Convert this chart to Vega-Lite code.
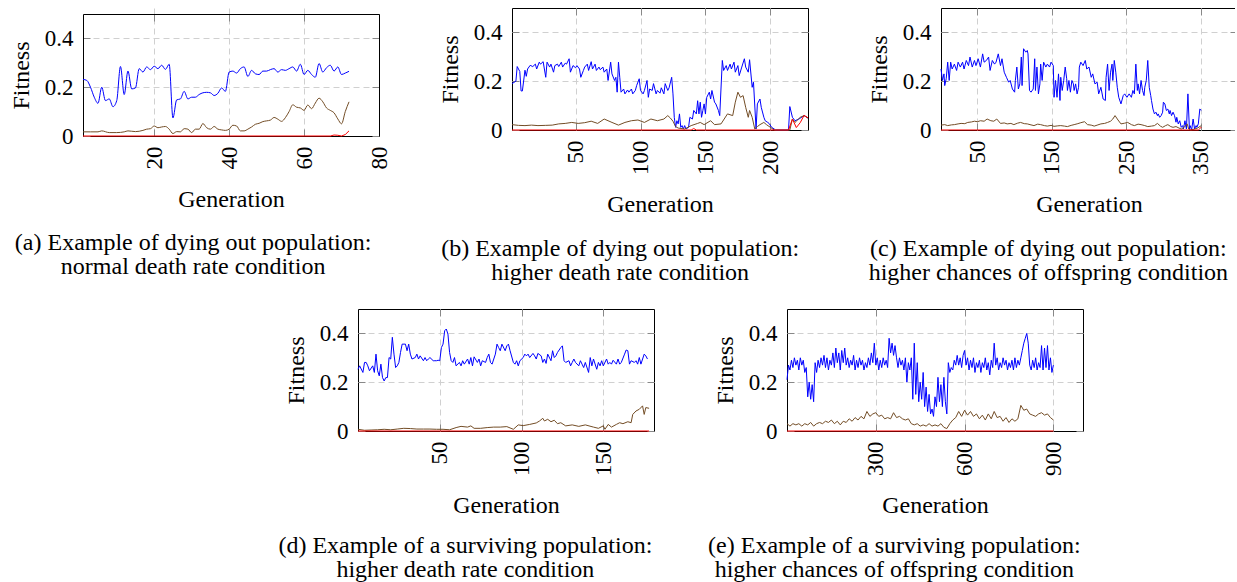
{
"$schema":"https://vega.github.io/schema/vega-lite/v6.json",
"background":"white",
"padding":{"left":9,"top":7,"right":-3,"bottom":0},
"datasets":{
"aB":[{"g":1,"v":0.232},{"g":2,"v":0.228},{"g":3,"v":0.2},{"g":4,"v":0.159},{"g":5,"v":0.134},{"g":6,"v":0.2},{"g":7,"v":0.145},{"g":8,"v":0.152},{"g":9,"v":0.12},{"g":10,"v":0.145},{"g":11,"v":0.285},{"g":12,"v":0.17},{"g":13,"v":0.266},{"g":14,"v":0.193},{"g":15,"v":0.197},{"g":16,"v":0.276},{"g":17,"v":0.262},{"g":18,"v":0.283},{"g":19,"v":0.272},{"g":20,"v":0.286},{"g":21,"v":0.276},{"g":22,"v":0.29},{"g":23,"v":0.273},{"g":24,"v":0.294},{"g":25,"v":0.074},{"g":26,"v":0.148},{"g":27,"v":0.152},{"g":28,"v":0.183},{"g":29,"v":0.152},{"g":30,"v":0.159},{"g":31,"v":0.159},{"g":32,"v":0.17},{"g":33,"v":0.177},{"g":34,"v":0.179},{"g":35,"v":0.177},{"g":36,"v":0.166},{"g":37,"v":0.175},{"g":38,"v":0.197},{"g":39,"v":0.183},{"g":40,"v":0.262},{"g":41,"v":0.266},{"g":42,"v":0.258},{"g":43,"v":0.276},{"g":44,"v":0.283},{"g":45,"v":0.244},{"g":46,"v":0.269},{"g":47,"v":0.255},{"g":48,"v":0.252},{"g":49,"v":0.266},{"g":50,"v":0.266},{"g":51,"v":0.272},{"g":52,"v":0.276},{"g":53,"v":0.262},{"g":54,"v":0.272},{"g":55,"v":0.269},{"g":56,"v":0.276},{"g":57,"v":0.283},{"g":58,"v":0.266},{"g":59,"v":0.294},{"g":60,"v":0.252},{"g":61,"v":0.269},{"g":62,"v":0.252},{"g":63,"v":0.241},{"g":64,"v":0.297},{"g":65,"v":0.262},{"g":66,"v":0.28},{"g":67,"v":0.29},{"g":68,"v":0.266},{"g":69,"v":0.283},{"g":70,"v":0.252},{"g":71,"v":0.258},{"g":72,"v":0.265}],
"aM":[{"g":1,"v":0.017},{"g":3,"v":0.017},{"g":5,"v":0.017},{"g":6,"v":0.021},{"g":8,"v":0.014},{"g":10,"v":0.014},{"g":12,"v":0.017},{"g":13,"v":0.021},{"g":15,"v":0.018},{"g":17,"v":0.023},{"g":18,"v":0.028},{"g":19,"v":0.03},{"g":20,"v":0.041},{"g":21,"v":0.034},{"g":22,"v":0.037},{"g":23,"v":0.039},{"g":24,"v":0.028},{"g":25,"v":0.01},{"g":26,"v":0.018},{"g":27,"v":0.017},{"g":28,"v":0.03},{"g":29,"v":0.028},{"g":30,"v":0.014},{"g":31,"v":0.028},{"g":32,"v":0.028},{"g":33,"v":0.051},{"g":34,"v":0.034},{"g":35,"v":0.028},{"g":36,"v":0.039},{"g":37,"v":0.028},{"g":38,"v":0.025},{"g":39,"v":0.023},{"g":40,"v":0.028},{"g":41,"v":0.044},{"g":42,"v":0.041},{"g":43,"v":0.021},{"g":44,"v":0.021},{"g":45,"v":0.028},{"g":46,"v":0.037},{"g":47,"v":0.048},{"g":48,"v":0.052},{"g":49,"v":0.059},{"g":50,"v":0.062},{"g":51,"v":0.065},{"g":52,"v":0.076},{"g":53,"v":0.069},{"g":54,"v":0.06},{"g":55,"v":0.075},{"g":56,"v":0.1},{"g":57,"v":0.128},{"g":58,"v":0.118},{"g":59,"v":0.115},{"g":60,"v":0.105},{"g":61,"v":0.127},{"g":62,"v":0.112},{"g":63,"v":0.135},{"g":64,"v":0.155},{"g":65,"v":0.14},{"g":66,"v":0.115},{"g":67,"v":0.105},{"g":68,"v":0.095},{"g":69,"v":0.07},{"g":70,"v":0.05},{"g":71,"v":0.1},{"g":72,"v":0.14}],
"aR":[{"g":1,"v":0},{"g":67,"v":0},{"g":68,"v":0.004},{"g":69,"v":0.003},{"g":70,"v":0},{"g":71,"v":0.006},{"g":72,"v":0.021}],
"bB":[{"g":1,"v":0.19},{"g":4,"v":0.2},{"g":5,"v":0.26},{"g":7,"v":0.24},{"g":8,"v":0.16},{"g":9,"v":0.16},{"g":11,"v":0.245},{"g":12,"v":0.22},{"g":13,"v":0.25},{"g":15,"v":0.265},{"g":17,"v":0.26},{"g":19,"v":0.27},{"g":20,"v":0.25},{"g":22,"v":0.278},{"g":23,"v":0.27},{"g":25,"v":0.28},{"g":27,"v":0.216},{"g":28,"v":0.278},{"g":30,"v":0.258},{"g":31,"v":0.27},{"g":33,"v":0.237},{"g":34,"v":0.264},{"g":36,"v":0.27},{"g":37,"v":0.26},{"g":39,"v":0.278},{"g":40,"v":0.258},{"g":42,"v":0.274},{"g":43,"v":0.27},{"g":45,"v":0.292},{"g":46,"v":0.237},{"g":48,"v":0.264},{"g":50,"v":0.255},{"g":51,"v":0.264},{"g":53,"v":0.25},{"g":54,"v":0.216},{"g":56,"v":0.244},{"g":57,"v":0.258},{"g":59,"v":0.27},{"g":60,"v":0.244},{"g":62,"v":0.28},{"g":63,"v":0.25},{"g":65,"v":0.27},{"g":66,"v":0.244},{"g":68,"v":0.258},{"g":69,"v":0.247},{"g":71,"v":0.258},{"g":72,"v":0.237},{"g":74,"v":0.25},{"g":75,"v":0.203},{"g":77,"v":0.278},{"g":78,"v":0.23},{"g":80,"v":0.203},{"g":81,"v":0.216},{"g":82,"v":0.155},{"g":83,"v":0.278},{"g":84,"v":0.216},{"g":85,"v":0.155},{"g":87,"v":0.168},{"g":88,"v":0.148},{"g":90,"v":0.164},{"g":91,"v":0.155},{"g":93,"v":0.168},{"g":94,"v":0.148},{"g":96,"v":0.162},{"g":97,"v":0.182},{"g":99,"v":0.21},{"g":100,"v":0.162},{"g":102,"v":0.148},{"g":103,"v":0.162},{"g":105,"v":0.203},{"g":106,"v":0.134},{"g":107,"v":0.168},{"g":109,"v":0.162},{"g":110,"v":0.19},{"g":112,"v":0.148},{"g":113,"v":0.162},{"g":115,"v":0.151},{"g":116,"v":0.173},{"g":118,"v":0.148},{"g":119,"v":0.19},{"g":121,"v":0.162},{"g":122,"v":0.173},{"g":124,"v":0.216},{"g":125,"v":0.148},{"g":126,"v":0.052},{"g":127,"v":0.011},{"g":128,"v":0.038},{"g":129,"v":0.025},{"g":130,"v":0.066},{"g":131,"v":0.011},{"g":132,"v":0.018},{"g":133,"v":0.004},{"g":134,"v":0.018},{"g":135,"v":0.004},{"g":137,"v":0.011},{"g":138,"v":0.052},{"g":140,"v":0.045},{"g":141,"v":0.08},{"g":143,"v":0.066},{"g":144,"v":0.12},{"g":145,"v":0.066},{"g":146,"v":0.114},{"g":147,"v":0.052},{"g":148,"v":0.08},{"g":149,"v":0.107},{"g":150,"v":0.066},{"g":151,"v":0.134},{"g":153,"v":0.155},{"g":154,"v":0.127},{"g":155,"v":0.162},{"g":157,"v":0.114},{"g":158,"v":0.107},{"g":160,"v":0.08},{"g":161,"v":0.059},{"g":163,"v":0.285},{"g":164,"v":0.244},{"g":166,"v":0.264},{"g":167,"v":0.244},{"g":169,"v":0.27},{"g":170,"v":0.25},{"g":172,"v":0.278},{"g":173,"v":0.237},{"g":175,"v":0.264},{"g":176,"v":0.223},{"g":178,"v":0.258},{"g":180,"v":0.292},{"g":181,"v":0.258},{"g":183,"v":0.237},{"g":184,"v":0.288},{"g":186,"v":0.175},{"g":187,"v":0.196},{"g":189,"v":0.004},{"g":190,"v":0.107},{"g":192,"v":0.127},{"g":193,"v":0.093},{"g":195,"v":0.052},{"g":196,"v":0.038},{"g":198,"v":0.031},{"g":199,"v":0.027},{"g":201,"v":0.011},{"g":203,"v":0.004},{"g":204,"v":0},{"g":214,"v":0},{"g":215,"v":0.096},{"g":217,"v":0.052},{"g":219,"v":0.038},{"g":222,"v":0.045},{"g":226,"v":0.059},{"g":229,"v":0.049}],
"bM":[{"g":1,"v":0.022},{"g":6,"v":0.019},{"g":11,"v":0.018},{"g":16,"v":0.02},{"g":21,"v":0.018},{"g":27,"v":0.019},{"g":32,"v":0.02},{"g":37,"v":0.025},{"g":42,"v":0.027},{"g":47,"v":0.031},{"g":52,"v":0.027},{"g":57,"v":0.03},{"g":62,"v":0.036},{"g":67,"v":0.027},{"g":72,"v":0.045},{"g":78,"v":0.031},{"g":83,"v":0.02},{"g":88,"v":0.031},{"g":93,"v":0.038},{"g":98,"v":0.041},{"g":103,"v":0.031},{"g":108,"v":0.045},{"g":113,"v":0.038},{"g":118,"v":0.045},{"g":121,"v":0.059},{"g":123,"v":0.049},{"g":125,"v":0.036},{"g":127,"v":0.014},{"g":129,"v":0.008},{"g":134,"v":0.004},{"g":139,"v":0.018},{"g":144,"v":0.027},{"g":146,"v":0.031},{"g":149,"v":0.022},{"g":154,"v":0.038},{"g":157,"v":0.022},{"g":162,"v":0.025},{"g":167,"v":0.066},{"g":171,"v":0.059},{"g":173,"v":0.114},{"g":175,"v":0.155},{"g":177,"v":0.134},{"g":179,"v":0.141},{"g":181,"v":0.093},{"g":183,"v":0.052},{"g":184,"v":0.08},{"g":186,"v":0.052},{"g":188,"v":0.004},{"g":190,"v":0.014},{"g":192,"v":0.022},{"g":195,"v":0.031},{"g":197,"v":0.022},{"g":200,"v":0.011},{"g":203,"v":0},{"g":215,"v":0},{"g":217,"v":0.045},{"g":219,"v":0.031},{"g":223,"v":0.052},{"g":226,"v":0.059},{"g":229,"v":0.049}],
"bR":[{"g":1,"v":0},{"g":139,"v":0},{"g":141,"v":0.006},{"g":143,"v":0},{"g":214,"v":0},{"g":217,"v":0.045},{"g":220,"v":0.01},{"g":223,"v":0.03},{"g":226,"v":0.06},{"g":229,"v":0.05}],
"cB":[{"g":1,"v":0.25},{"g":3,"v":0.203},{"g":5,"v":0.23},{"g":6,"v":0.182},{"g":8,"v":0.21},{"g":10,"v":0.278},{"g":12,"v":0.203},{"g":14,"v":0.278},{"g":16,"v":0.25},{"g":19,"v":0.27},{"g":22,"v":0.244},{"g":24,"v":0.278},{"g":27,"v":0.258},{"g":30,"v":0.278},{"g":32,"v":0.25},{"g":35,"v":0.285},{"g":38,"v":0.264},{"g":40,"v":0.299},{"g":43,"v":0.258},{"g":46,"v":0.285},{"g":48,"v":0.264},{"g":51,"v":0.292},{"g":54,"v":0.258},{"g":57,"v":0.312},{"g":59,"v":0.278},{"g":62,"v":0.285},{"g":65,"v":0.299},{"g":67,"v":0.244},{"g":70,"v":0.285},{"g":73,"v":0.27},{"g":75,"v":0.278},{"g":78,"v":0.312},{"g":81,"v":0.264},{"g":83,"v":0.292},{"g":86,"v":0.237},{"g":89,"v":0.216},{"g":92,"v":0.196},{"g":94,"v":0.203},{"g":97,"v":0.168},{"g":100,"v":0.155},{"g":101,"v":0.203},{"g":103,"v":0.258},{"g":105,"v":0.168},{"g":107,"v":0.189},{"g":109,"v":0.299},{"g":110,"v":0.182},{"g":112,"v":0.333},{"g":115,"v":0.319},{"g":117,"v":0.326},{"g":118,"v":0.312},{"g":120,"v":0.162},{"g":122,"v":0.155},{"g":125,"v":0.168},{"g":127,"v":0.292},{"g":128,"v":0.162},{"g":130,"v":0.258},{"g":132,"v":0.148},{"g":134,"v":0.189},{"g":135,"v":0.27},{"g":137,"v":0.203},{"g":139,"v":0.278},{"g":142,"v":0.258},{"g":144,"v":0.27},{"g":147,"v":0.258},{"g":149,"v":0.278},{"g":152,"v":0.264},{"g":153,"v":0.134},{"g":155,"v":0.203},{"g":157,"v":0.134},{"g":159,"v":0.23},{"g":161,"v":0.121},{"g":162,"v":0.216},{"g":164,"v":0.162},{"g":166,"v":0.203},{"g":168,"v":0.258},{"g":170,"v":0.21},{"g":171,"v":0.162},{"g":173,"v":0.203},{"g":175,"v":0.155},{"g":177,"v":0.203},{"g":179,"v":0.189},{"g":180,"v":0.162},{"g":182,"v":0.189},{"g":184,"v":0.148},{"g":186,"v":0.175},{"g":187,"v":0.258},{"g":189,"v":0.278},{"g":192,"v":0.264},{"g":195,"v":0.285},{"g":197,"v":0.25},{"g":200,"v":0.258},{"g":203,"v":0.216},{"g":205,"v":0.23},{"g":208,"v":0.189},{"g":211,"v":0.196},{"g":213,"v":0.148},{"g":216,"v":0.175},{"g":219,"v":0.127},{"g":222,"v":0.121},{"g":223,"v":0.216},{"g":225,"v":0.27},{"g":227,"v":0.162},{"g":229,"v":0.237},{"g":231,"v":0.27},{"g":232,"v":0.203},{"g":234,"v":0.285},{"g":236,"v":0.237},{"g":238,"v":0.175},{"g":240,"v":0.134},{"g":243,"v":0.107},{"g":246,"v":0.141},{"g":248,"v":0.148},{"g":251,"v":0.134},{"g":254,"v":0.148},{"g":257,"v":0.134},{"g":259,"v":0.162},{"g":261,"v":0.148},{"g":263,"v":0.27},{"g":265,"v":0.162},{"g":266,"v":0.189},{"g":268,"v":0.148},{"g":270,"v":0.203},{"g":272,"v":0.162},{"g":274,"v":0.141},{"g":275,"v":0.175},{"g":277,"v":0.203},{"g":279,"v":0.285},{"g":281,"v":0.175},{"g":283,"v":0.141},{"g":284,"v":0.121},{"g":286,"v":0.086},{"g":288,"v":0.066},{"g":290,"v":0.073},{"g":292,"v":0.059},{"g":293,"v":0.066},{"g":295,"v":0.052},{"g":297,"v":0.059},{"g":299,"v":0.073},{"g":300,"v":0.114},{"g":302,"v":0.107},{"g":304,"v":0.08},{"g":306,"v":0.086},{"g":308,"v":0.066},{"g":309,"v":0.08},{"g":311,"v":0.059},{"g":313,"v":0.073},{"g":315,"v":0.059},{"g":317,"v":0.032},{"g":318,"v":0.052},{"g":320,"v":0.025},{"g":322,"v":0.038},{"g":324,"v":0.011},{"g":326,"v":0.018},{"g":327,"v":0.004},{"g":329,"v":0.038},{"g":331,"v":0.004},{"g":333,"v":0.148},{"g":335,"v":0.004},{"g":336,"v":0.018},{"g":338,"v":0},{"g":340,"v":0.045},{"g":342,"v":0.004},{"g":344,"v":0.018},{"g":345,"v":0.011},{"g":347,"v":0.025},{"g":349,"v":0.086},{"g":351,"v":0.08}],
"cM":[{"g":1,"v":0.02},{"g":6,"v":0.022},{"g":10,"v":0.018},{"g":15,"v":0.021},{"g":19,"v":0.022},{"g":24,"v":0.025},{"g":28,"v":0.027},{"g":33,"v":0.026},{"g":37,"v":0.031},{"g":42,"v":0.033},{"g":46,"v":0.036},{"g":50,"v":0.034},{"g":54,"v":0.038},{"g":59,"v":0.036},{"g":63,"v":0.045},{"g":68,"v":0.038},{"g":72,"v":0.036},{"g":76,"v":0.045},{"g":81,"v":0.027},{"g":86,"v":0.029},{"g":90,"v":0.025},{"g":95,"v":0.027},{"g":99,"v":0.022},{"g":104,"v":0.028},{"g":108,"v":0.031},{"g":113,"v":0.026},{"g":117,"v":0.025},{"g":122,"v":0.021},{"g":126,"v":0.018},{"g":131,"v":0.024},{"g":135,"v":0.022},{"g":140,"v":0.018},{"g":144,"v":0.016},{"g":149,"v":0.019},{"g":153,"v":0.015},{"g":158,"v":0.017},{"g":162,"v":0.018},{"g":167,"v":0.016},{"g":171,"v":0.014},{"g":176,"v":0.019},{"g":180,"v":0.022},{"g":185,"v":0.026},{"g":189,"v":0.03},{"g":194,"v":0.034},{"g":198,"v":0.022},{"g":203,"v":0.02},{"g":207,"v":0.016},{"g":212,"v":0.021},{"g":216,"v":0.025},{"g":221,"v":0.027},{"g":225,"v":0.031},{"g":229,"v":0.036},{"g":232,"v":0.045},{"g":235,"v":0.059},{"g":239,"v":0.041},{"g":243,"v":0.025},{"g":248,"v":0.028},{"g":252,"v":0.031},{"g":257,"v":0.022},{"g":261,"v":0.018},{"g":266,"v":0.024},{"g":270,"v":0.022},{"g":275,"v":0.018},{"g":279,"v":0.014},{"g":284,"v":0.016},{"g":288,"v":0.018},{"g":292,"v":0.027},{"g":296,"v":0.016},{"g":299,"v":0.011},{"g":303,"v":0.018},{"g":306,"v":0.022},{"g":310,"v":0.014},{"g":313,"v":0.011},{"g":317,"v":0.014},{"g":321,"v":0.008},{"g":324,"v":0.004},{"g":328,"v":0.011},{"g":332,"v":0.025},{"g":334,"v":0.004},{"g":337,"v":0},{"g":342,"v":0.004},{"g":346,"v":0.008},{"g":351,"v":0.018}],
"cR":[{"g":1,"v":0},{"g":347,"v":0},{"g":349,"v":0.005},{"g":351,"v":0.012}],
"dB":[{"g":0,"v":0.253},{"g":1,"v":0.267},{"g":3,"v":0.24},{"g":4,"v":0.281},{"g":5,"v":0.281},{"g":6,"v":0.267},{"g":7,"v":0.247},{"g":9,"v":0.267},{"g":10,"v":0.24},{"g":11,"v":0.315},{"g":12,"v":0.247},{"g":13,"v":0.226},{"g":14,"v":0.274},{"g":15,"v":0.219},{"g":16,"v":0.205},{"g":17,"v":0.219},{"g":18,"v":0.219},{"g":19,"v":0.301},{"g":20,"v":0.295},{"g":21,"v":0.384},{"g":22,"v":0.315},{"g":23,"v":0.26},{"g":24,"v":0.267},{"g":25,"v":0.281},{"g":26,"v":0.322},{"g":27,"v":0.356},{"g":29,"v":0.356},{"g":30,"v":0.329},{"g":31,"v":0.356},{"g":32,"v":0.315},{"g":33,"v":0.295},{"g":35,"v":0.301},{"g":36,"v":0.315},{"g":37,"v":0.295},{"g":38,"v":0.308},{"g":40,"v":0.288},{"g":41,"v":0.301},{"g":42,"v":0.288},{"g":43,"v":0.295},{"g":44,"v":0.301},{"g":46,"v":0.288},{"g":47,"v":0.288},{"g":48,"v":0.288},{"g":49,"v":0.29},{"g":50,"v":0.288},{"g":51,"v":0.342},{"g":52,"v":0.356},{"g":53,"v":0.411},{"g":54,"v":0.418},{"g":55,"v":0.397},{"g":56,"v":0.322},{"g":57,"v":0.288},{"g":58,"v":0.281},{"g":59,"v":0.301},{"g":60,"v":0.267},{"g":62,"v":0.281},{"g":63,"v":0.267},{"g":64,"v":0.288},{"g":65,"v":0.274},{"g":67,"v":0.295},{"g":68,"v":0.274},{"g":69,"v":0.301},{"g":70,"v":0.267},{"g":71,"v":0.304},{"g":73,"v":0.281},{"g":74,"v":0.295},{"g":75,"v":0.267},{"g":76,"v":0.288},{"g":78,"v":0.281},{"g":79,"v":0.301},{"g":80,"v":0.315},{"g":81,"v":0.281},{"g":82,"v":0.274},{"g":84,"v":0.315},{"g":85,"v":0.356},{"g":86,"v":0.342},{"g":87,"v":0.329},{"g":88,"v":0.356},{"g":90,"v":0.329},{"g":91,"v":0.349},{"g":92,"v":0.356},{"g":93,"v":0.329},{"g":95,"v":0.281},{"g":96,"v":0.274},{"g":97,"v":0.288},{"g":98,"v":0.267},{"g":99,"v":0.288},{"g":101,"v":0.301},{"g":102,"v":0.315},{"g":103,"v":0.308},{"g":104,"v":0.315},{"g":105,"v":0.301},{"g":107,"v":0.318},{"g":108,"v":0.308},{"g":109,"v":0.295},{"g":110,"v":0.318},{"g":112,"v":0.308},{"g":113,"v":0.281},{"g":114,"v":0.295},{"g":115,"v":0.277},{"g":116,"v":0.315},{"g":118,"v":0.288},{"g":119,"v":0.329},{"g":120,"v":0.301},{"g":121,"v":0.308},{"g":122,"v":0.322},{"g":124,"v":0.342},{"g":125,"v":0.349},{"g":126,"v":0.288},{"g":127,"v":0.281},{"g":129,"v":0.288},{"g":130,"v":0.267},{"g":131,"v":0.281},{"g":132,"v":0.295},{"g":133,"v":0.281},{"g":135,"v":0.267},{"g":136,"v":0.288},{"g":137,"v":0.274},{"g":138,"v":0.26},{"g":139,"v":0.281},{"g":141,"v":0.24},{"g":142,"v":0.301},{"g":143,"v":0.267},{"g":144,"v":0.295},{"g":146,"v":0.253},{"g":147,"v":0.281},{"g":148,"v":0.267},{"g":149,"v":0.288},{"g":150,"v":0.267},{"g":152,"v":0.295},{"g":153,"v":0.274},{"g":154,"v":0.281},{"g":155,"v":0.274},{"g":156,"v":0.29},{"g":158,"v":0.274},{"g":159,"v":0.295},{"g":160,"v":0.274},{"g":161,"v":0.281},{"g":163,"v":0.315},{"g":164,"v":0.332},{"g":165,"v":0.329},{"g":166,"v":0.274},{"g":167,"v":0.288},{"g":169,"v":0.281},{"g":170,"v":0.288},{"g":171,"v":0.274},{"g":172,"v":0.301},{"g":173,"v":0.274},{"g":175,"v":0.315},{"g":176,"v":0.308},{"g":177,"v":0.295}],
"dM":[{"g":0,"v":0.007},{"g":4,"v":0.003},{"g":8,"v":0.004},{"g":12,"v":0.005},{"g":16,"v":0.007},{"g":20,"v":0.005},{"g":24,"v":0.008},{"g":28,"v":0.011},{"g":32,"v":0.01},{"g":36,"v":0.008},{"g":40,"v":0.008},{"g":44,"v":0.008},{"g":48,"v":0.007},{"g":52,"v":0.007},{"g":56,"v":0.005},{"g":60,"v":0.014},{"g":63,"v":0.019},{"g":67,"v":0.016},{"g":69,"v":0.021},{"g":71,"v":0.011},{"g":75,"v":0.011},{"g":79,"v":0.014},{"g":83,"v":0.016},{"g":87,"v":0.016},{"g":91,"v":0.018},{"g":95,"v":0.007},{"g":98,"v":0.025},{"g":101,"v":0.022},{"g":105,"v":0.027},{"g":109,"v":0.033},{"g":111,"v":0.041},{"g":113,"v":0.052},{"g":114,"v":0.041},{"g":116,"v":0.048},{"g":118,"v":0.038},{"g":120,"v":0.044},{"g":122,"v":0.03},{"g":124,"v":0.034},{"g":127,"v":0.021},{"g":131,"v":0.025},{"g":135,"v":0.019},{"g":139,"v":0.025},{"g":144,"v":0.016},{"g":147,"v":0.011},{"g":150,"v":0.021},{"g":151,"v":0.007},{"g":153,"v":0.027},{"g":155,"v":0.016},{"g":158,"v":0.027},{"g":160,"v":0.034},{"g":162,"v":0.03},{"g":165,"v":0.038},{"g":167,"v":0.034},{"g":168,"v":0.068},{"g":170,"v":0.082},{"g":172,"v":0.089},{"g":174,"v":0.103},{"g":175,"v":0.068},{"g":176,"v":0.096},{"g":178,"v":0.093}],
"dR":[{"g":0,"v":0},{"g":178,"v":0}],
"eB":[{"g":0,"v":0.21},{"g":5,"v":0.27},{"g":10,"v":0.25},{"g":15,"v":0.29},{"g":20,"v":0.26},{"g":25,"v":0.3},{"g":30,"v":0.27},{"g":35,"v":0.29},{"g":40,"v":0.25},{"g":45,"v":0.3},{"g":50,"v":0.27},{"g":55,"v":0.29},{"g":60,"v":0.24},{"g":65,"v":0.26},{"g":70,"v":0.14},{"g":75,"v":0.2},{"g":80,"v":0.13},{"g":85,"v":0.19},{"g":90,"v":0.12},{"g":95,"v":0.28},{"g":100,"v":0.24},{"g":105,"v":0.29},{"g":110,"v":0.26},{"g":115,"v":0.3},{"g":120,"v":0.27},{"g":125,"v":0.31},{"g":130,"v":0.26},{"g":135,"v":0.3},{"g":140,"v":0.25},{"g":145,"v":0.29},{"g":150,"v":0.27},{"g":155,"v":0.32},{"g":160,"v":0.26},{"g":165,"v":0.34},{"g":170,"v":0.28},{"g":175,"v":0.32},{"g":180,"v":0.25},{"g":185,"v":0.33},{"g":190,"v":0.28},{"g":195,"v":0.34},{"g":200,"v":0.27},{"g":205,"v":0.3},{"g":210,"v":0.26},{"g":215,"v":0.29},{"g":220,"v":0.27},{"g":225,"v":0.31},{"g":230,"v":0.25},{"g":235,"v":0.29},{"g":240,"v":0.26},{"g":245,"v":0.3},{"g":250,"v":0.27},{"g":255,"v":0.29},{"g":260,"v":0.25},{"g":265,"v":0.28},{"g":270,"v":0.26},{"g":275,"v":0.3},{"g":280,"v":0.27},{"g":285,"v":0.32},{"g":290,"v":0.28},{"g":295,"v":0.36},{"g":300,"v":0.27},{"g":305,"v":0.3},{"g":310,"v":0.25},{"g":315,"v":0.29},{"g":320,"v":0.26},{"g":325,"v":0.3},{"g":330,"v":0.27},{"g":335,"v":0.29},{"g":340,"v":0.26},{"g":345,"v":0.38},{"g":350,"v":0.32},{"g":355,"v":0.36},{"g":360,"v":0.31},{"g":365,"v":0.35},{"g":370,"v":0.3},{"g":375,"v":0.26},{"g":380,"v":0.3},{"g":385,"v":0.27},{"g":390,"v":0.29},{"g":395,"v":0.25},{"g":400,"v":0.3},{"g":405,"v":0.2},{"g":410,"v":0.28},{"g":415,"v":0.25},{"g":420,"v":0.3},{"g":425,"v":0.13},{"g":430,"v":0.36},{"g":435,"v":0.15},{"g":440,"v":0.28},{"g":445,"v":0.12},{"g":450,"v":0.2},{"g":455,"v":0.13},{"g":460,"v":0.24},{"g":465,"v":0.1},{"g":470,"v":0.18},{"g":475,"v":0.08},{"g":480,"v":0.15},{"g":485,"v":0.07},{"g":490,"v":0.09},{"g":495,"v":0.06},{"g":500,"v":0.14},{"g":505,"v":0.1},{"g":510,"v":0.22},{"g":515,"v":0.12},{"g":520,"v":0.19},{"g":525,"v":0.1},{"g":530,"v":0.22},{"g":535,"v":0.12},{"g":540,"v":0.07},{"g":545,"v":0.28},{"g":550,"v":0.24},{"g":555,"v":0.26},{"g":560,"v":0.25},{"g":565,"v":0.29},{"g":570,"v":0.27},{"g":575,"v":0.31},{"g":580,"v":0.27},{"g":585,"v":0.3},{"g":590,"v":0.26},{"g":595,"v":0.31},{"g":600,"v":0.33},{"g":605,"v":0.27},{"g":610,"v":0.3},{"g":615,"v":0.25},{"g":620,"v":0.29},{"g":625,"v":0.26},{"g":630,"v":0.3},{"g":635,"v":0.24},{"g":640,"v":0.28},{"g":645,"v":0.26},{"g":650,"v":0.29},{"g":655,"v":0.24},{"g":660,"v":0.28},{"g":665,"v":0.26},{"g":670,"v":0.3},{"g":675,"v":0.25},{"g":680,"v":0.28},{"g":685,"v":0.23},{"g":690,"v":0.29},{"g":695,"v":0.26},{"g":700,"v":0.36},{"g":705,"v":0.27},{"g":710,"v":0.3},{"g":715,"v":0.25},{"g":720,"v":0.28},{"g":725,"v":0.26},{"g":730,"v":0.3},{"g":735,"v":0.27},{"g":740,"v":0.29},{"g":745,"v":0.25},{"g":750,"v":0.28},{"g":755,"v":0.26},{"g":760,"v":0.29},{"g":765,"v":0.25},{"g":770,"v":0.3},{"g":775,"v":0.26},{"g":780,"v":0.29},{"g":785,"v":0.27},{"g":790,"v":0.3},{"g":795,"v":0.33},{"g":800,"v":0.36},{"g":805,"v":0.38},{"g":810,"v":0.4},{"g":815,"v":0.36},{"g":820,"v":0.27},{"g":825,"v":0.25},{"g":830,"v":0.29},{"g":835,"v":0.26},{"g":840,"v":0.3},{"g":845,"v":0.25},{"g":850,"v":0.28},{"g":855,"v":0.26},{"g":860,"v":0.35},{"g":865,"v":0.25},{"g":870,"v":0.34},{"g":875,"v":0.26},{"g":880,"v":0.35},{"g":885,"v":0.25},{"g":890,"v":0.3},{"g":895,"v":0.24},{"g":900,"v":0.27}],
"eM":[{"g":0,"v":0.03},{"g":10,"v":0.02},{"g":20,"v":0.03},{"g":30,"v":0.025},{"g":40,"v":0.03},{"g":50,"v":0.02},{"g":60,"v":0.03},{"g":70,"v":0.025},{"g":80,"v":0.035},{"g":90,"v":0.02},{"g":100,"v":0.03},{"g":110,"v":0.035},{"g":120,"v":0.03},{"g":130,"v":0.04},{"g":140,"v":0.035},{"g":150,"v":0.045},{"g":160,"v":0.03},{"g":170,"v":0.04},{"g":180,"v":0.025},{"g":190,"v":0.04},{"g":200,"v":0.035},{"g":210,"v":0.05},{"g":220,"v":0.04},{"g":230,"v":0.055},{"g":240,"v":0.045},{"g":250,"v":0.06},{"g":260,"v":0.05},{"g":270,"v":0.08},{"g":280,"v":0.06},{"g":290,"v":0.07},{"g":300,"v":0.075},{"g":310,"v":0.06},{"g":320,"v":0.065},{"g":330,"v":0.05},{"g":340,"v":0.055},{"g":350,"v":0.05},{"g":360,"v":0.075},{"g":370,"v":0.055},{"g":380,"v":0.06},{"g":390,"v":0.05},{"g":400,"v":0.045},{"g":410,"v":0.05},{"g":420,"v":0.03},{"g":430,"v":0.025},{"g":440,"v":0.03},{"g":450,"v":0.02},{"g":460,"v":0.025},{"g":470,"v":0.02},{"g":480,"v":0.03},{"g":490,"v":0.02},{"g":500,"v":0.025},{"g":510,"v":0.02},{"g":520,"v":0.03},{"g":530,"v":0.015},{"g":540,"v":0.01},{"g":550,"v":0.03},{"g":560,"v":0.045},{"g":570,"v":0.055},{"g":580,"v":0.08},{"g":590,"v":0.06},{"g":600,"v":0.085},{"g":610,"v":0.065},{"g":620,"v":0.08},{"g":630,"v":0.06},{"g":640,"v":0.07},{"g":650,"v":0.05},{"g":660,"v":0.065},{"g":670,"v":0.045},{"g":680,"v":0.07},{"g":690,"v":0.05},{"g":700,"v":0.08},{"g":710,"v":0.055},{"g":720,"v":0.06},{"g":730,"v":0.04},{"g":740,"v":0.055},{"g":750,"v":0.035},{"g":760,"v":0.05},{"g":770,"v":0.04},{"g":780,"v":0.05},{"g":790,"v":0.105},{"g":800,"v":0.085},{"g":810,"v":0.09},{"g":820,"v":0.07},{"g":830,"v":0.065},{"g":840,"v":0.06},{"g":850,"v":0.07},{"g":860,"v":0.075},{"g":870,"v":0.065},{"g":880,"v":0.07},{"g":890,"v":0.055},{"g":900,"v":0.045}],
"eR":[{"g":0,"v":0},{"g":900,"v":0}]
},
"spacing":23,
"vconcat":[
{"hconcat":[
{"width":296,"height":128,
"view":{"stroke":null},
"title":{"text":["(a) Example of dying out population:","normal death rate condition"],"dx":-7},
"layer":[
{"data":{"name":"aB"},"mark":{"type":"line","color":"#0000ff","interpolate":"monotone"},"encoding":{"x":{"field":"g","type":"quantitative","scale":{"domain":[1,80],"nice":false,"zero":false},"axis":{"values":[20,40,60,80],"title":"Generation","grid":true,"domain":true,"domainColor":"black","gridOpacity":{"condition":{"test":"datum.value === 80","value":0},"value":1}}},"y":{"field":"v","type":"quantitative","scale":{"domain":[0,0.5],"nice":false,"range":[128,6]},"axis":{"values":[0,0.2,0.4],"title":"Fitness","grid":true,"domain":true,"domainColor":"black","gridOpacity":{"condition":{"test":"datum.value === 0","value":0},"value":1},"labelExpr":"datum.value == 0 ? '0' : format(datum.value, '.1f')"}}}},
{"data":{"name":"aM"},"mark":{"type":"line","color":"#734d26","interpolate":"monotone"},"encoding":{"x":{"field":"g","type":"quantitative","axis":null},"y":{"field":"v","type":"quantitative","axis":null}}},
{"data":{"name":"aR"},"mark":{"type":"line","color":"#ff0000"},"encoding":{"x":{"field":"g","type":"quantitative","axis":{"orient":"top","offset":-6,"values":[20,40,60,80],"labels":false,"title":null,"grid":false,"domain":true,"domainColor":"black"}},"y":{"field":"v","type":"quantitative","axis":{"orient":"right","values":[0,0.2,0.4],"labels":false,"title":null,"grid":false,"domain":true,"domainColor":"black"}}}}
],
"resolve":{"axis":{"x":"independent","y":"independent"}}},
{"width":296,"height":122,
"title":{"text":["(b) Example of dying out population:","higher death rate condition"],"dx":-4},
"layer":[
{"data":{"name":"bB"},"mark":{"type":"line","color":"#0000ff"},"encoding":{"x":{"field":"g","type":"quantitative","scale":{"domain":[1,229],"nice":false,"zero":false},"axis":{"values":[50,100,150,200],"title":"Generation","grid":true}},"y":{"field":"v","type":"quantitative","scale":{"domain":[0,0.5],"nice":false},"axis":{"values":[0,0.2,0.4],"title":"Fitness","grid":true,"gridOpacity":{"condition":{"test":"datum.value === 0","value":0},"value":1},"labelExpr":"datum.value == 0 ? '0' : format(datum.value, '.1f')"}}}},
{"data":{"name":"bM"},"mark":{"type":"line","color":"#734d26"},"encoding":{"x":{"field":"g","type":"quantitative","axis":null},"y":{"field":"v","type":"quantitative","axis":null}}},
{"data":{"name":"bR"},"mark":{"type":"line","color":"#ff0000"},"encoding":{"x":{"field":"g","type":"quantitative","axis":{"orient":"top","values":[50,100,150,200],"labels":false,"title":null,"grid":false}},"y":{"field":"v","type":"quantitative","axis":{"orient":"right","values":[0,0.2,0.4],"labels":false,"title":null,"grid":false}}}}
],
"resolve":{"axis":{"x":"independent","y":"independent"}}},
{"width":296,"height":122,
"title":{"text":["(c) Example of dying out population:","higher chances of offspring condition"],"dx":-4},
"layer":[
{"data":{"name":"cB"},"mark":{"type":"line","color":"#0000ff"},"encoding":{"x":{"field":"g","type":"quantitative","scale":{"domain":[1,399],"nice":false,"zero":false},"axis":{"values":[50,150,250,350],"title":"Generation","grid":true}},"y":{"field":"v","type":"quantitative","scale":{"domain":[0,0.5],"nice":false},"axis":{"values":[0,0.2,0.4],"title":"Fitness","grid":true,"gridOpacity":{"condition":{"test":"datum.value === 0","value":0},"value":1},"labelExpr":"datum.value == 0 ? '0' : format(datum.value, '.1f')"}}}},
{"data":{"name":"cM"},"mark":{"type":"line","color":"#734d26"},"encoding":{"x":{"field":"g","type":"quantitative","axis":null},"y":{"field":"v","type":"quantitative","axis":null}}},
{"data":{"name":"cR"},"mark":{"type":"line","color":"#ff0000"},"encoding":{"x":{"field":"g","type":"quantitative","axis":{"orient":"top","values":[50,150,250,350],"labels":false,"title":null,"grid":false}},"y":{"field":"v","type":"quantitative","axis":{"orient":"right","values":[0,0.2,0.4],"labels":false,"title":null,"grid":false}}}}
],
"resolve":{"axis":{"x":"independent","y":"independent"}}}
],"spacing":133,"bounds":"flush"},
{"hconcat":[
{"width":142,"height":1,"data":{"values":[{}]},"mark":{"type":"rect","color":"white"},"encoding":{},"view":{"stroke":null}},
{"width":296,"height":122,
"title":{"text":["(d) Example of a surviving population:","higher death rate condition"],"dx":-4,"offset":16},
"layer":[
{"data":{"name":"dB"},"mark":{"type":"line","color":"#0000ff"},"encoding":{"x":{"field":"g","type":"quantitative","scale":{"domain":[0,181],"nice":false,"zero":false},"axis":{"values":[50,100,150],"title":"Generation","grid":true}},"y":{"field":"v","type":"quantitative","scale":{"domain":[0,0.5],"nice":false},"axis":{"values":[0,0.2,0.4],"title":"Fitness","grid":true,"gridOpacity":{"condition":{"test":"datum.value === 0","value":0},"value":1},"labelExpr":"datum.value == 0 ? '0' : format(datum.value, '.1f')"}}}},
{"data":{"name":"dM"},"mark":{"type":"line","color":"#734d26"},"encoding":{"x":{"field":"g","type":"quantitative","axis":null},"y":{"field":"v","type":"quantitative","axis":null}}},
{"data":{"name":"dR"},"mark":{"type":"line","color":"#ff0000"},"encoding":{"x":{"field":"g","type":"quantitative","axis":{"orient":"top","values":[50,100,150],"labels":false,"title":null,"grid":false}},"y":{"field":"v","type":"quantitative","axis":{"orient":"right","values":[0,0.2,0.4],"labels":false,"title":null,"grid":false}}}}
],
"resolve":{"axis":{"x":"independent","y":"independent"}}},
{"width":296,"height":122,
"title":{"text":["(e) Example of a surviving population:","higher chances of offspring condition"],"dx":-4,"offset":16},
"layer":[
{"data":{"name":"eB"},"mark":{"type":"line","color":"#0000ff"},"encoding":{"x":{"field":"g","type":"quantitative","scale":{"domain":[0,1000],"nice":false,"zero":false},"axis":{"values":[300,600,900],"title":"Generation","grid":true}},"y":{"field":"v","type":"quantitative","scale":{"domain":[0,0.5],"nice":false},"axis":{"values":[0,0.2,0.4],"title":"Fitness","grid":true,"gridOpacity":{"condition":{"test":"datum.value === 0","value":0},"value":1},"labelExpr":"datum.value == 0 ? '0' : format(datum.value, '.1f')"}}}},
{"data":{"name":"eM"},"mark":{"type":"line","color":"#734d26"},"encoding":{"x":{"field":"g","type":"quantitative","axis":null},"y":{"field":"v","type":"quantitative","axis":null}}},
{"data":{"name":"eR"},"mark":{"type":"line","color":"#ff0000"},"encoding":{"x":{"field":"g","type":"quantitative","axis":{"orient":"top","values":[300,600,900],"labels":false,"title":null,"grid":false}},"y":{"field":"v","type":"quantitative","axis":{"orient":"right","values":[0,0.2,0.4],"labels":false,"title":null,"grid":false}}}}
],
"resolve":{"axis":{"x":"independent","y":"independent"}}}
],"spacing":133,"bounds":"flush"}
],
"config":{
"view":{"stroke":"black","strokeWidth":1},
"font":"Liberation Serif",
"line":{"strokeWidth":1},
"axis":{"labelFont":"Liberation Serif","labelFontSize":23,"labelColor":"black","titleFont":"Liberation Serif","titleFontSize":24,"titleFontWeight":"normal","titleColor":"black","domain":false,"ticks":true,"tickColor":"#888888","tickSize":-7,"tickWidth":1,"gridColor":"#d0d0d0","gridDash":[6,4],"gridWidth":1},
"axisX":{"labelAngle":270,"labelPadding":17,"titlePadding":18},
"axisY":{"labelPadding":17,"titlePadding":11},
"title":{"font":"Liberation Serif","fontSize":24,"fontWeight":"normal","color":"black","orient":"bottom","anchor":"middle","frame":"bounds","lineHeight":24,"offset":20}
}
}
